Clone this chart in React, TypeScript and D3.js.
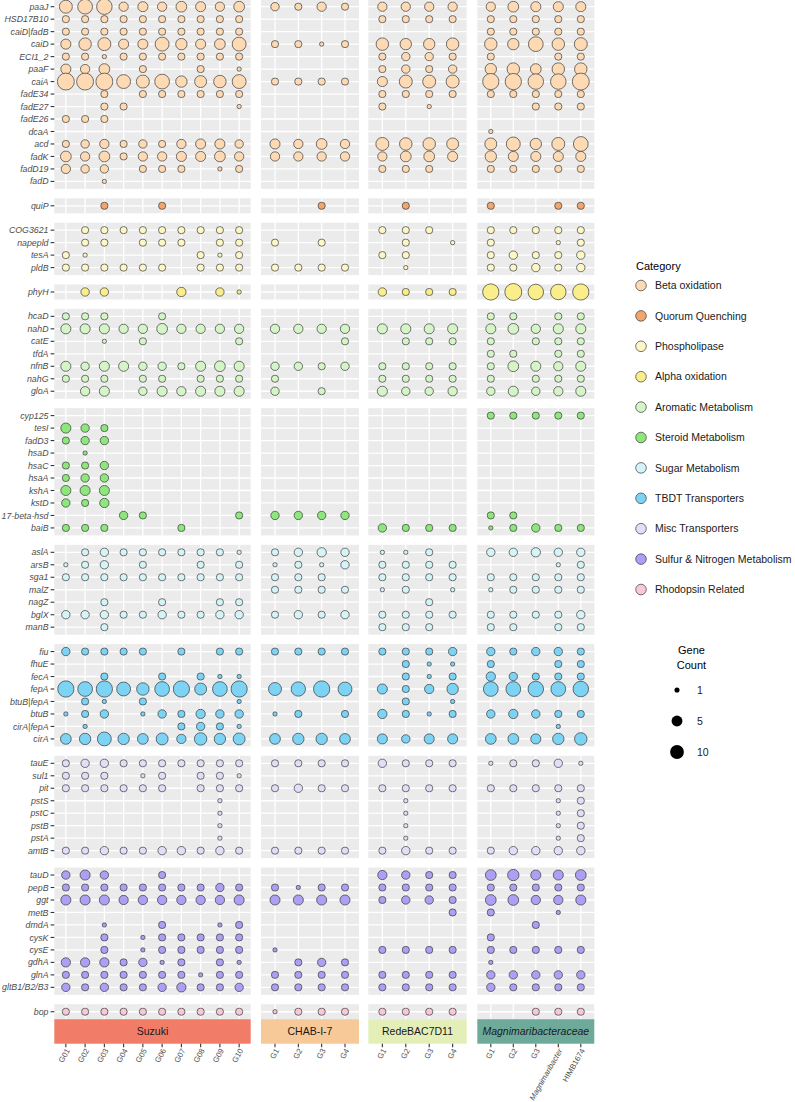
import React from 'react';
import * as d3 from 'd3';

// x axis: genomes per clade
const suzukiGenomes = ['G01', 'G02', 'G03', 'G04', 'G05', 'G06', 'G07', 'G08', 'G09', 'G10'];
const chabGenomes = ['G1', 'G2', 'G3', 'G4'];
const redeGenomes = ['G1', 'G2', 'G3', 'G4'];
const magniGenomes = ['G1', 'G2', 'G3', 'Magnimaribacter', 'HIMB1674'];
const cladeNames = ['Suzuki', 'CHAB-I-7', 'RedeBAC7D11', 'Magnimaribacteraceae'];
const cladeColors = ['#F17C68', '#F7C898', '#E4EFB8', '#6DAA9A'];

const categoryNames = [
  'Beta oxidation', 'Quorum Quenching', 'Phospholipase', 'Alpha oxidation',
  'Aromatic Metabolism', 'Steroid Metabolism', 'Sugar Metabolism', 'TBDT Transporters',
  'Misc Transporters', 'Sulfur & Nitrogen Metabolism', 'Rhodopsin Related',
];
const categoryColors = [
  '#FDDAB4', '#F2A66E', '#FDF7C8', '#F9EE8A', '#D5F5C8', '#8EE77C',
  '#D5F4F7', '#7DD3F4', '#E2DEF8', '#AE9FF5', '#F8C8D8',
];
const countBreaks = [1, 5, 10];

// gene counts, columns: Suzuki G01-G10 | CHAB G1-G4 | Rede G1-G4 | Magni G1,G2,G3,Magnimaribacter,HIMB1674
const betaGenes = ['paaJ', 'HSD17B10', 'caiD|fadB', 'caiD', 'ECI1_2', 'paaF', 'caiA', 'fadE34', 'fadE27', 'fadE26', 'dcaA', 'acd', 'fadK', 'fadD19', 'fadD'];
const betaCounts = [
  [10, 14, 16, 4, 5, 4, 6, 5, 4, 6, 3, 2, 4, 2, 4, 4, 4, 4, 4, 6, 5, 5, 5],
  [2, 2, 2, 2, 2, 2, 2, 2, 2, 2, 0, 0, 0, 0, 2, 2, 2, 2, 2, 2, 2, 2, 2],
  [2, 2, 2, 2, 2, 2, 2, 2, 2, 2, 0, 0, 0, 0, 0, 0, 0, 0, 2, 2, 2, 2, 2],
  [5, 9, 10, 5, 5, 12, 7, 5, 6, 12, 2, 2, 1, 2, 9, 7, 7, 9, 9, 7, 14, 9, 10],
  [2, 2, 1, 2, 2, 2, 2, 2, 2, 2, 0, 0, 0, 0, 2, 3, 3, 2, 2, 0, 0, 2, 2],
  [5, 4, 6, 0, 2, 0, 0, 2, 0, 1, 0, 0, 0, 0, 2, 3, 2, 3, 7, 9, 6, 9, 9],
  [20, 20, 20, 12, 10, 14, 7, 8, 9, 12, 2, 2, 2, 2, 5, 10, 10, 10, 18, 18, 16, 16, 20],
  [0, 0, 2, 0, 2, 2, 2, 2, 2, 2, 0, 0, 0, 0, 2, 2, 2, 2, 2, 2, 2, 2, 2],
  [0, 0, 2, 2, 0, 0, 0, 0, 0, 1, 0, 0, 0, 0, 2, 0, 1, 0, 0, 0, 2, 2, 2],
  [2, 2, 2, 0, 0, 0, 0, 0, 0, 0, 0, 0, 0, 0, 0, 0, 0, 0, 0, 0, 0, 0, 0],
  [0, 0, 0, 0, 0, 0, 0, 0, 0, 0, 0, 0, 0, 0, 0, 0, 0, 0, 1, 0, 0, 0, 0],
  [2, 3, 4, 2, 3, 2, 4, 5, 5, 3, 5, 4, 6, 4, 10, 9, 9, 8, 8, 12, 7, 10, 14],
  [6, 4, 6, 2, 4, 4, 5, 5, 6, 4, 4, 4, 4, 4, 4, 6, 6, 5, 7, 5, 5, 5, 5],
  [4, 3, 3, 0, 2, 2, 2, 0, 1, 2, 0, 0, 0, 0, 2, 2, 2, 0, 2, 2, 2, 2, 2],
  [0, 0, 1, 0, 0, 0, 0, 0, 0, 0, 0, 0, 0, 0, 0, 0, 0, 0, 0, 0, 0, 0, 0],
];

const quorumGenes = ['quiP'];
const quorumCounts = [
  [0, 0, 2, 0, 0, 2, 0, 0, 0, 0, 0, 0, 2, 0, 0, 2, 0, 0, 2, 0, 0, 2, 2],
];

const phosphoGenes = ['COG3621', 'napepld', 'tesA', 'pldB'];
const phosphoCounts = [
  [0, 2, 2, 2, 2, 2, 2, 2, 2, 2, 0, 0, 0, 0, 2, 2, 2, 0, 2, 2, 2, 2, 2],
  [0, 2, 2, 0, 2, 2, 2, 0, 2, 2, 2, 0, 2, 0, 0, 2, 0, 1, 2, 0, 0, 1, 2],
  [2, 1, 0, 0, 0, 0, 0, 2, 1, 2, 0, 0, 0, 0, 2, 2, 0, 0, 2, 3, 2, 2, 3],
  [2, 2, 2, 2, 2, 2, 0, 2, 2, 2, 2, 2, 2, 2, 0, 1, 0, 0, 2, 2, 3, 2, 3],
];

const alphaGenes = ['phyH'];
const alphaCounts = [
  [0, 3, 3, 0, 0, 0, 4, 0, 3, 1, 0, 0, 0, 0, 3, 2, 2, 2, 18, 20, 16, 16, 18],
];

const aromaticGenes = ['hcaD', 'nahD', 'catE', 'tfdA', 'nfnB', 'nahG', 'gloA'];
const aromaticCounts = [
  [2, 2, 2, 0, 0, 2, 0, 0, 0, 0, 0, 0, 0, 0, 0, 0, 0, 0, 2, 2, 0, 2, 2],
  [5, 5, 5, 4, 4, 6, 4, 4, 4, 4, 4, 4, 4, 4, 5, 5, 5, 5, 5, 6, 4, 5, 5],
  [0, 0, 1, 0, 2, 0, 0, 0, 0, 2, 0, 0, 0, 2, 0, 2, 2, 2, 2, 0, 2, 2, 2],
  [0, 0, 0, 0, 0, 0, 0, 0, 0, 0, 0, 0, 0, 0, 0, 0, 0, 0, 2, 2, 0, 2, 2],
  [5, 3, 5, 5, 3, 3, 2, 5, 6, 5, 3, 3, 2, 3, 2, 2, 2, 2, 2, 6, 5, 4, 5],
  [2, 2, 2, 0, 2, 2, 0, 2, 2, 2, 2, 0, 0, 0, 2, 2, 2, 2, 2, 0, 2, 2, 2],
  [0, 4, 5, 0, 3, 5, 4, 5, 5, 5, 3, 0, 2, 0, 5, 3, 3, 4, 3, 5, 3, 4, 5],
];

const steroidGenes = ['cyp125', 'tesI', 'fadD3', 'hsaD', 'hsaC', 'hsaA', 'kshA', 'kstD', '17-beta-hsd', 'baiB'];
const steroidCounts = [
  [0, 0, 0, 0, 0, 0, 0, 0, 0, 0, 0, 0, 0, 0, 0, 0, 0, 0, 2, 2, 2, 2, 2],
  [5, 3, 2, 0, 0, 0, 0, 0, 0, 0, 0, 0, 0, 0, 0, 0, 0, 0, 0, 0, 0, 0, 0],
  [2, 3, 3, 0, 0, 0, 0, 0, 0, 0, 0, 0, 0, 0, 0, 0, 0, 0, 0, 0, 0, 0, 0],
  [0, 1, 0, 0, 0, 0, 0, 0, 0, 0, 0, 0, 0, 0, 0, 0, 0, 0, 0, 0, 0, 0, 0],
  [2, 2, 3, 0, 0, 0, 0, 0, 0, 0, 0, 0, 0, 0, 0, 0, 0, 0, 0, 0, 0, 0, 0],
  [2, 3, 3, 0, 0, 0, 0, 0, 0, 0, 0, 0, 0, 0, 0, 0, 0, 0, 0, 0, 0, 0, 0],
  [5, 5, 5, 0, 0, 0, 0, 0, 0, 0, 0, 0, 0, 0, 0, 0, 0, 0, 0, 0, 0, 0, 0],
  [3, 2, 4, 0, 0, 0, 0, 0, 0, 0, 0, 0, 0, 0, 0, 0, 0, 0, 0, 0, 0, 0, 0],
  [0, 0, 0, 3, 2, 0, 0, 0, 0, 2, 3, 3, 3, 3, 0, 0, 0, 0, 2, 2, 0, 0, 0],
  [2, 2, 2, 0, 0, 0, 2, 0, 0, 0, 0, 0, 0, 0, 3, 2, 2, 2, 1, 2, 3, 2, 2],
];

const sugarGenes = ['aslA', 'arsB', 'sga1', 'malZ', 'nagZ', 'bglX', 'manB'];
const sugarCounts = [
  [0, 2, 3, 2, 2, 2, 2, 2, 2, 1, 2, 3, 4, 3, 1, 1, 2, 0, 3, 3, 4, 3, 3],
  [1, 2, 3, 0, 2, 0, 0, 2, 0, 2, 1, 2, 1, 3, 2, 2, 2, 2, 0, 0, 0, 1, 2],
  [2, 2, 2, 2, 2, 2, 2, 2, 2, 2, 2, 2, 2, 0, 2, 2, 2, 2, 2, 2, 2, 2, 2],
  [0, 0, 0, 0, 0, 0, 0, 0, 0, 0, 2, 2, 2, 2, 1, 2, 0, 1, 1, 2, 2, 2, 2],
  [0, 0, 2, 0, 0, 2, 0, 0, 2, 2, 0, 0, 0, 0, 0, 0, 2, 0, 0, 0, 0, 0, 0],
  [3, 3, 3, 2, 2, 3, 2, 2, 3, 3, 2, 3, 2, 3, 2, 2, 2, 2, 2, 2, 2, 2, 3],
  [0, 0, 2, 0, 0, 0, 0, 0, 0, 0, 0, 0, 0, 0, 2, 2, 2, 0, 2, 2, 0, 2, 2],
];

const tbdtGenes = ['fiu', 'fhuE', 'fecA', 'fepA', 'btuB|fepA', 'btuB', 'cirA|fepA', 'cirA'];
const tbdtCounts = [
  [3, 2, 2, 2, 2, 0, 2, 0, 2, 2, 2, 2, 2, 2, 2, 2, 2, 3, 3, 2, 3, 3, 2],
  [0, 0, 0, 0, 0, 0, 0, 0, 0, 0, 0, 0, 0, 0, 0, 2, 1, 1, 2, 0, 0, 2, 2],
  [0, 0, 2, 0, 0, 2, 0, 2, 1, 1, 0, 0, 0, 0, 0, 2, 1, 2, 4, 3, 2, 2, 2],
  [18, 14, 18, 12, 9, 14, 18, 8, 14, 18, 10, 13, 18, 12, 5, 2, 4, 7, 14, 14, 16, 14, 16],
  [0, 2, 1, 0, 2, 0, 0, 0, 0, 1, 0, 0, 0, 0, 0, 2, 0, 1, 0, 0, 0, 0, 0],
  [1, 2, 3, 0, 1, 3, 2, 4, 3, 3, 1, 2, 0, 2, 4, 2, 1, 2, 3, 4, 3, 2, 2],
  [0, 1, 0, 0, 0, 0, 2, 3, 2, 1, 0, 0, 0, 0, 0, 0, 0, 0, 0, 0, 0, 1, 0],
  [6, 7, 12, 7, 6, 8, 4, 9, 7, 8, 6, 7, 7, 6, 5, 3, 5, 5, 6, 6, 5, 7, 9],
];

const miscGenes = ['tauE', 'sul1', 'pit', 'pstS', 'pstC', 'pstB', 'pstA', 'amtB'];
const miscCounts = [
  [2, 3, 3, 2, 2, 2, 2, 2, 2, 2, 2, 2, 2, 2, 3, 2, 2, 2, 1, 2, 2, 3, 1],
  [2, 2, 2, 0, 1, 2, 0, 2, 2, 1, 0, 0, 0, 0, 0, 0, 0, 0, 0, 0, 0, 0, 0],
  [2, 2, 2, 2, 2, 2, 0, 2, 2, 2, 2, 3, 2, 2, 2, 2, 2, 2, 2, 2, 2, 2, 2],
  [0, 0, 0, 0, 0, 0, 0, 0, 1, 0, 0, 0, 0, 0, 0, 1, 0, 0, 0, 0, 0, 1, 2],
  [0, 0, 0, 0, 0, 0, 0, 0, 1, 0, 0, 0, 0, 0, 0, 1, 0, 0, 0, 0, 0, 1, 2],
  [0, 0, 0, 0, 0, 0, 0, 0, 1, 0, 0, 0, 0, 0, 0, 1, 0, 0, 0, 0, 0, 1, 2],
  [0, 0, 0, 0, 0, 0, 0, 0, 1, 0, 0, 0, 0, 0, 0, 1, 0, 0, 0, 0, 0, 1, 2],
  [2, 2, 3, 2, 2, 3, 3, 2, 3, 2, 2, 2, 2, 2, 2, 3, 2, 2, 2, 3, 3, 3, 3],
];

const sulfurGenes = ['tauD', 'pepB', 'ggt', 'metB', 'dmdA', 'cysK', 'cysE', 'gdhA', 'glnA', 'gltB1/B2/B3'];
const sulfurCounts = [
  [3, 5, 3, 0, 0, 2, 0, 0, 0, 0, 0, 0, 0, 0, 4, 3, 2, 2, 6, 7, 5, 5, 6],
  [2, 2, 2, 2, 2, 2, 2, 2, 3, 2, 2, 1, 2, 2, 2, 2, 2, 2, 2, 2, 2, 2, 2],
  [5, 5, 5, 4, 4, 4, 4, 4, 4, 5, 5, 5, 5, 5, 2, 3, 3, 2, 6, 6, 4, 4, 5],
  [0, 0, 0, 0, 0, 0, 0, 0, 0, 0, 0, 0, 0, 0, 0, 0, 0, 2, 2, 0, 0, 1, 0],
  [0, 0, 1, 0, 0, 2, 0, 0, 1, 2, 0, 0, 0, 0, 0, 0, 0, 0, 0, 0, 2, 0, 0],
  [0, 0, 2, 0, 1, 2, 2, 2, 2, 2, 0, 0, 0, 0, 0, 0, 0, 0, 2, 0, 0, 0, 0],
  [0, 0, 2, 0, 1, 2, 2, 2, 2, 2, 1, 0, 0, 0, 2, 2, 2, 2, 2, 2, 2, 2, 2],
  [4, 4, 4, 2, 3, 1, 2, 0, 2, 1, 0, 2, 3, 2, 0, 0, 0, 0, 1, 0, 0, 0, 0],
  [2, 2, 2, 2, 2, 2, 2, 1, 2, 2, 2, 2, 2, 2, 2, 2, 2, 2, 3, 3, 3, 3, 3],
  [3, 2, 3, 2, 2, 3, 4, 2, 2, 3, 2, 2, 2, 2, 2, 2, 2, 2, 3, 2, 2, 2, 2],
];

const rhodopsinGenes = ['bop'];
const rhodopsinCounts = [
  [2, 2, 2, 2, 2, 2, 2, 2, 2, 2, 1, 2, 2, 2, 2, 2, 2, 2, 0, 0, 2, 2, 2],
];

const groupGenes = [betaGenes, quorumGenes, phosphoGenes, alphaGenes, aromaticGenes, steroidGenes, sugarGenes, tbdtGenes, miscGenes, sulfurGenes, rhodopsinGenes];
const groupCounts = [betaCounts, quorumCounts, phosphoCounts, alphaCounts, aromaticCounts, steroidCounts, sugarCounts, tbdtCounts, miscCounts, sulfurCounts, rhodopsinCounts];
const cladeGenomes = [suzukiGenomes, chabGenomes, redeGenomes, magniGenomes];

// layout
const W = 795;
const H = 1102;
const panelX: [number, number][] = [[54.3, 250.7], [261, 359], [368.3, 466.7], [477.3, 594.3]];
const unit = 12.48;
const gapY = 9.4;
const top0 = -0.8;
const FONT = '"Liberation Sans", Arial, Helvetica, sans-serif';
const panelBg = '#EBEBEB';

export default function App() {
  // vertical facets, height follows the number of genes
  let yCursor = top0;
  const rows = groupGenes.map((genes, i) => {
    const h = (genes.length + 0.2) * unit;
    const y0 = yCursor;
    const y1 = y0 + h;
    yCursor = y1 + gapY;
    const y = d3.scalePoint<string>().domain(genes).range([y0, y1]).padding(0.6);
    return { i, genes, counts: groupCounts[i], y0, y1, y };
  });
  const plotBottom = rows[rows.length - 1].y1;

  // horizontal facets
  let offset = 0;
  const cols = cladeGenomes.map((genomes, j) => {
    const x = d3.scalePoint<number>().domain(d3.range(genomes.length)).range(panelX[j]).padding(0.6);
    const c = { j, genomes, x, x0: panelX[j][0], x1: panelX[j][1], offset };
    offset += genomes.length;
    return c;
  });

  // size scale (area-like, as ggplot's scale_size)
  const maxCount = d3.max(groupCounts.flat(2)) as number;
  const diam = d3.scaleLinear().domain([0, Math.sqrt(maxCount - 1)]).range([4.3, 4.3 + 2.9 * Math.sqrt(maxCount - 1)]);
  const radius = (v: number) => diam(Math.sqrt(v - 1)) / 2;

  const stripTop = plotBottom;
  const stripH = 24.5;
  const tickTop = stripTop + stripH;
  const tickLen = 3.5;

  const legX = 636;
  const legKeyX = 641;
  const legTextX = 655;
  const legY0 = 285.5;
  const legStep = 30.4;
  const legend = d3.scaleLinear().domain([0, 1]).range([legY0, legY0 + legStep]);

  return (
    <div style={{ position: 'absolute', left: 0, top: 0 }}>
      <svg width={W} height={H} style={{ display: 'block', background: '#fff' }} fontFamily={FONT}>
        {rows.map((r) =>
          cols.map((c) => (
            <g key={`p-${r.i}-${c.j}`}>
              <rect x={c.x0} y={r.y0} width={c.x1 - c.x0} height={r.y1 - r.y0} fill={panelBg} />
              {r.genes.map((g) => (
                <line key={`h-${g}`} x1={c.x0} x2={c.x1} y1={r.y(g)} y2={r.y(g)} stroke="#fff" strokeWidth={1.3} />
              ))}
              {c.genomes.map((_, k) => (
                <line key={`v-${k}`} x1={c.x(k)} x2={c.x(k)} y1={r.y0} y2={r.y1} stroke="#fff" strokeWidth={1.3} />
              ))}
              {r.genes.map((g, gi) =>
                c.genomes.map((_, k) => {
                  const v = r.counts[gi][c.offset + k];
                  if (!v) return null;
                  return (
                    <circle
                      key={`c-${g}-${k}`}
                      cx={c.x(k)}
                      cy={r.y(g)}
                      r={radius(v)}
                      fill={categoryColors[r.i]}
                      stroke="#333"
                      strokeOpacity={0.75}
                      strokeWidth={0.9}
                    />
                  );
                })
              )}
            </g>
          ))
        )}

        {/* y axis */}
        {rows.map((r) =>
          r.genes.map((g) => (
            <g key={`yl-${g}`}>
              <line x1={50.6} x2={54.3} y1={r.y(g)} y2={r.y(g)} stroke="#333" strokeWidth={1.1} />
              <text x={48.5} y={r.y(g)} dy="0.35em" textAnchor="end" fontSize={8.8} fontStyle="italic" fill="#4D4D4D">
                {g}
              </text>
            </g>
          ))
        )}

        {/* strips + x axis */}
        {cols.map((c) => (
          <g key={`s-${c.j}`}>
            <rect x={c.x0} y={stripTop} width={c.x1 - c.x0} height={stripH} fill={cladeColors[c.j]} />
            <text
              x={(c.x0 + c.x1) / 2}
              y={stripTop + stripH / 2}
              dy="0.35em"
              textAnchor="middle"
              fontSize={10.5}
              fill="#1A1A1A"
              fontStyle={c.j === 3 ? 'italic' : 'normal'}
            >
              {cladeNames[c.j]}
            </text>
            {c.genomes.map((gname, k) => (
              <g key={`xt-${k}`}>
                <line x1={c.x(k)} x2={c.x(k)} y1={tickTop} y2={tickTop + tickLen} stroke="#333" strokeWidth={1.1} />
                <text
                  transform={`translate(${(c.x(k) as number) + 2},${tickTop + tickLen + 2}) rotate(-60)`}
                  textAnchor="end"
                  dy="0.35em"
                  fontSize={7.8}
                  fill="#4D4D4D"
                  fontStyle={gname === 'Magnimaribacter' ? 'italic' : 'normal'}
                >
                  {gname}
                </text>
              </g>
            ))}
          </g>
        ))}

        {/* category legend */}
        <text x={legX} y={legY0 - 19} dy="0.35em" fontSize={11} fill="#000">Category</text>
        {categoryNames.map((name, i) => (
          <g key={`lg-${i}`}>
            <circle cx={legKeyX} cy={legend(i)} r={5.3} fill={categoryColors[i]} stroke="#333" strokeOpacity={0.75} strokeWidth={0.9} />
            <text x={legTextX} y={legend(i)} dy="0.35em" fontSize={10.5} fill="#1A1A1A">{name}</text>
          </g>
        ))}

        {/* size legend */}
        <text x={691.5} y={650} dy="0.35em" textAnchor="middle" fontSize={11} fill="#000">Gene</text>
        <text x={691.5} y={665} dy="0.35em" textAnchor="middle" fontSize={11} fill="#000">Count</text>
        {countBreaks.map((b, i) => (
          <g key={`sz-${b}`}>
            <circle cx={677} cy={690 + i * 31} r={radius(b) + 0.4} fill="#000" />
            <text x={697} y={690 + i * 31} dy="0.35em" fontSize={10.5} fill="#1A1A1A">{b}</text>
          </g>
        ))}
      </svg>
    </div>
  );
}
